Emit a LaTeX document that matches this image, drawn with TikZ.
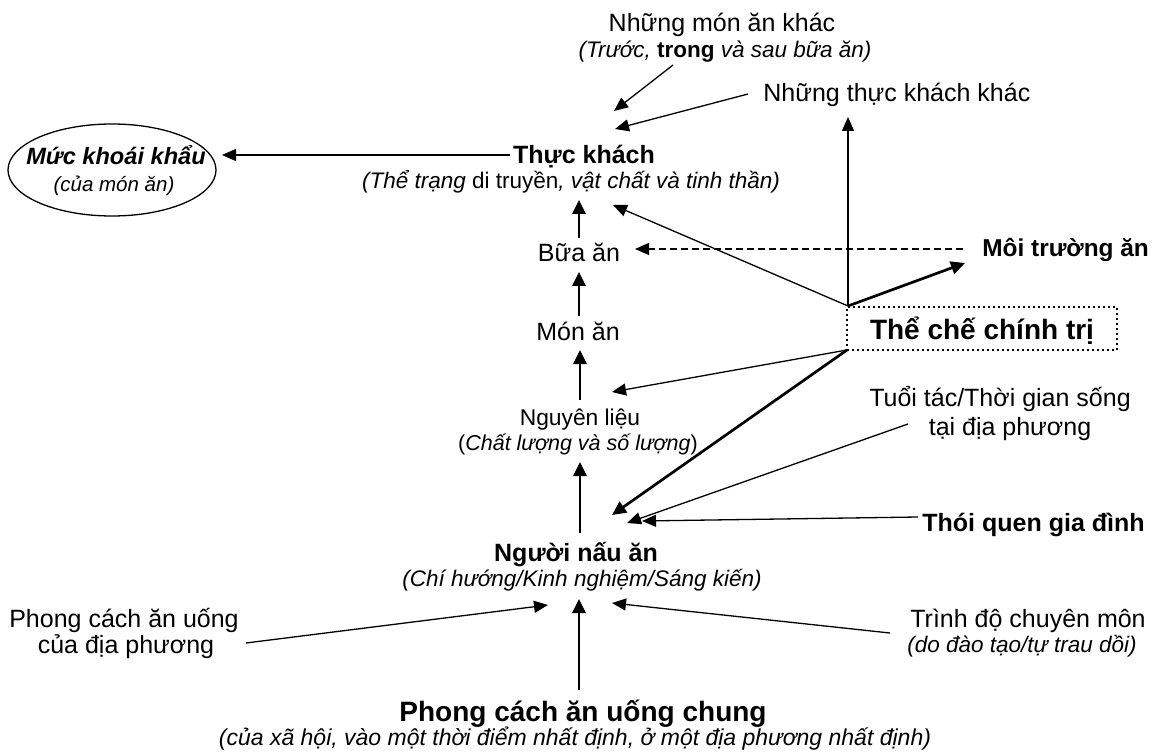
\documentclass[tikz,border=0pt]{standalone}
\usepackage{fontspec}
\setmainfont{Liberation Sans}
\usetikzlibrary{arrows.meta,shapes.geometric}
\newcommand{\szT}{\fontsize{12.5}{15}\selectfont}
\newcommand{\szS}{\fontsize{11.25}{13.5}\selectfont}
\newcommand{\szB}{\fontsize{14}{17}\selectfont}
\begin{document}
\begin{tikzpicture}[x=0.5pt,y=-0.5pt,
  lbl/.style={inner sep=0pt, anchor=base},
  tarr/.style={line width=0.65pt, -{Triangle[length=7pt,width=6pt]}},
  karr/.style={line width=1.35pt, -{Triangle[length=7pt,width=6.5pt]}},
  darr/.style={line width=0.6pt, dash pattern=on 3.5pt off 2pt, -{Triangle[length=7pt,width=6pt]}},
  dotbox/.style={draw, line width=1pt, dash pattern=on 1pt off 1.5pt, minimum width=135pt, minimum height=21.5pt, inner sep=0pt, text height=11.5pt, text depth=0pt},
]
\useasboundingbox (0,0) rectangle (1155,753);
% ---- nodes
\node[lbl] (monkhac) at (722,32) {\szT Những món ăn khác};
\node[lbl] (monkhacsub) at (725,58) {\szS\itshape (Trước, {\upshape\bfseries trong} và sau bữa ăn)};
\node[lbl, anchor=base west] (khachkhac) at (763,102) {\szT Những thực khách khác};
\node[ellipse, draw, line width=0.65pt, minimum width=104pt, minimum height=46pt, inner sep=0pt] (pal) at (112,170) {};
\node[lbl] (paltitle) at (116,165) {\fontsize{11.8}{14}\selectfont\bfseries\itshape Mức khoái khẩu};
\node[lbl] (palsub) at (114,192) {\fontsize{10.25}{12}\selectfont\itshape (của món ăn)};
\node[lbl] (thuckhach) at (584,164) {\szT\bfseries Thực khách};
\node[lbl] (thuckhachsub) at (571,189) {\szS\itshape (Thể trạng {\upshape di truyền}, vật chất và tinh thần)};
\node[lbl] (bua) at (579,262) {\szT Bữa ăn};
\node[lbl] (mon) at (578,341) {\szT Món ăn};
\node[lbl] (nguyen) at (580,425) {\fontsize{11.4}{13}\selectfont Nguyên liệu};
\node[lbl] (nguyensub) at (578,450) {\fontsize{10.75}{13}\selectfont (\textit{Chất lượng và số lượng})};
\node[lbl] (nguoi) at (576,561) {\szT\bfseries Người nấu ăn};
\node[lbl] (nguoisub) at (582,586) {\szS\itshape (Chí hướng/Kinh nghiệm/Sáng kiến)};
\node[lbl] (chung) at (583,721) {\szB\bfseries Phong cách ăn uống chung};
\node[lbl] (chungsub) at (575,745) {\fontsize{11.5}{14}\selectfont\itshape (của xã hội, vào một thời điểm nhất định, ở một địa phương nhất định)};
\node[lbl] (phongdp) at (124,627) {\szT Phong cách ăn uống};
\node[lbl] (phongdpb) at (126,653) {\szT của địa phương};
\node[lbl] (trinhdo) at (1028,627) {\szT Trình độ chuyên môn};
\node[lbl] (trinhdosub) at (1022,652) {\szS\itshape (do đào tạo/tự trau dồi)};
\node[lbl] (tuoitac) at (1000,406) {\szT Tuổi tác/Thời gian sống};
\node[lbl] (tuoitacb) at (1010,435) {\szT tại địa phương};
\node[lbl, anchor=base east] (thoiquen) at (1145,531) {\szT\bfseries Thói quen gia đình};
\node[lbl, anchor=base west] (moitruong) at (982,257) {\fontsize{12.2}{15}\selectfont\bfseries Môi trường ăn};
\node[dotbox] (thche) at (982,328.5) {\szB\bfseries Thể chế chính trị};
% ---- connector ends
\coordinate (tkOut) at (510,155);
\coordinate (palIn) at (222,155);
\coordinate (mkOut) at (673,65);
\coordinate (tkInA) at (614,111);
\coordinate (kkOut) at (748,94);
\coordinate (tkInB) at (615,129);
\coordinate (kkIn) at (848,117);
\coordinate (apex) at (848,306);
\coordinate (tkInC) at (613,205);
\coordinate (mtIn) at (965,263);
\coordinate (mtOut) at (963,249);
\coordinate (buaIn) at (635,249);
\coordinate (buaOut) at (579,238);
\coordinate (tkInD) at (579,200);
\coordinate (monOut) at (579,316);
\coordinate (buaInB) at (579,272);
\coordinate (nlOut) at (580,400);
\coordinate (monIn) at (580,350);
\coordinate (nnOut) at (580,533);
\coordinate (nlIn) at (580,462);
\coordinate (tcCorner) at (847,350);
\coordinate (nlInB) at (612,392);
\coordinate (nnInA) at (612,515);
\coordinate (ttOut) at (908,424);
\coordinate (nnInB) at (627,523);
\coordinate (tqOut) at (918,517);
\coordinate (nnInC) at (642,521);
\coordinate (pdOut) at (246,643);
\coordinate (nnInD) at (548,605);
\coordinate (tdOut) at (890,633);
\coordinate (nnInE) at (612,603);
\coordinate (chOut) at (579,690);
\coordinate (nnInF) at (579,599);
% ---- connectors
\draw[tarr] (tkOut) -- (palIn);
\draw[tarr] (mkOut) -- (tkInA);
\draw[tarr] (kkOut) -- (tkInB);
\draw[tarr] (apex) -- (kkIn);
\draw[tarr] (apex) -- (tkInC);
\draw[karr] (apex) -- (mtIn);
\draw[darr] (mtOut) -- (buaIn);
\draw[karr] (buaOut) -- (tkInD);
\draw[karr] (monOut) -- (buaInB);
\draw[karr] (nlOut) -- (monIn);
\draw[karr] (nnOut) -- (nlIn);
\draw[tarr] (tcCorner) -- (nlInB);
\draw[karr] (tcCorner) -- (nnInA);
\draw[tarr] (ttOut) -- (nnInB);
\draw[tarr] (tqOut) -- (nnInC);
\draw[tarr] (pdOut) -- (nnInD);
\draw[tarr] (tdOut) -- (nnInE);
\draw[karr] (chOut) -- (nnInF);
\end{tikzpicture}
\end{document}
